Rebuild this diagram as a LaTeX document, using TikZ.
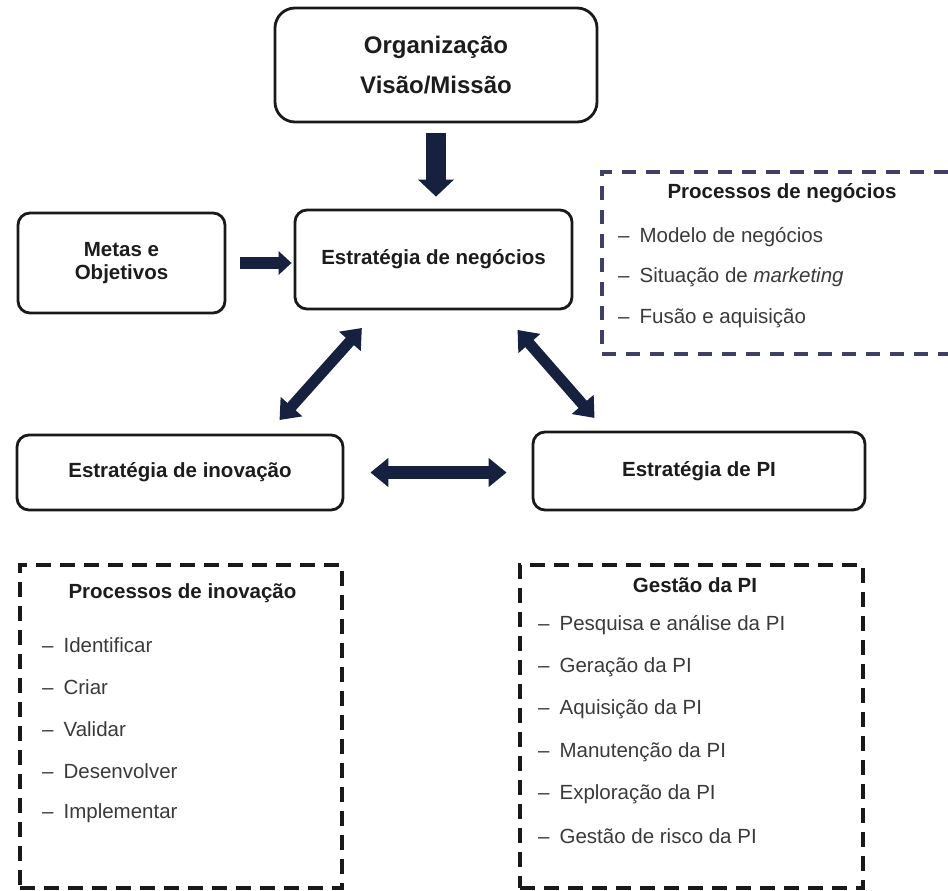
\documentclass[tikz,border=0pt]{standalone}
\usepackage{fontspec}
\setmainfont{Liberation Sans}
\usetikzlibrary{positioning}
\usetikzlibrary{arrows.meta}
\definecolor{arrowNavy}{RGB}{21,33,62}
\definecolor{dashNavy}{RGB}{62,64,102}
\definecolor{textDark}{RGB}{28,28,28}
\definecolor{textGray}{RGB}{58,58,58}
\tikzset{
    objBox/.style={rectangle, rounded corners=12pt, draw=black!90, line width=2.8pt, text centered, font=\fontsize{20.5}{23}\selectfont\bfseries, text=textDark},
    objDashBox/.style={rectangle, draw=black!90, line width=3.2pt, dash pattern=on 15pt off 9pt},
    objTitle/.style={font=\fontsize{20.5}{23}\selectfont\bfseries, text=textDark},
    objItem/.style={anchor=west, inner sep=0pt, font=\fontsize{20.5}{23}\selectfont, text=textGray},
    blockArrow/.style={draw=arrowNavy, line width=11pt},
    twoHeads/.style={{Triangle[width=28pt, length=18pt]}-{Triangle[width=28pt, length=18pt]}}
}
\newcommand{\listdash}{–\hspace{10pt}}

\begin{document}
\begin{tikzpicture}[x=1pt, y=-1pt]
    \useasboundingbox (0,0) rectangle (948,891);

    % main boxes
    \node (org) [objBox, rounded corners=20pt, minimum width=322pt, minimum height=114pt, align=center, font=\fontsize{24}{40}\selectfont\bfseries] at (436,65) {Organização\\Visão/Missão};
    \node (metas) [objBox, minimum width=207pt, minimum height=100pt, align=center] at (121.5,263) {Metas e\\Objetivos};
    \node (neg) [objBox, minimum width=277pt, minimum height=99pt] at (433.5,259.5) {Estratégia de negócios};
    \node (inov) [objBox, minimum width=326pt, minimum height=75pt] at (180,472.5) {Estratégia de inovação};
    \node (pi) [objBox, minimum width=332pt, minimum height=78pt] at (699,471) {Estratégia de PI};

    % dashed boxes
    \node (negBox) [objDashBox, draw=dashNavy, dash pattern=on 14pt off 10pt, minimum width=358pt, minimum height=182pt] at (781,263) {};
    \node (inovBox) [objDashBox, minimum width=322pt, minimum height=323pt] at (181,726.5) {};
    \node (piBox) [objDashBox, minimum width=343pt, minimum height=323pt] at (691.5,726.5) {};

    % Processos de negocios
    \node (negTitle) [objTitle] at (782,193) {Processos de negócios};
    \node (neg1) [objItem] at (618,237) {\listdash Modelo de negócios};
    \node (neg2) [below=40.5pt of neg1.west, objItem] {\listdash Situação de \textit{marketing}};
    \node (neg3) [below=40.5pt of neg2.west, objItem] {\listdash Fusão e aquisição};

    % Processos de inovacao
    \node (inovTitle) [objTitle] at (182.5,593) {Processos de inovação};
    \node (inov1) [objItem] at (42,645) {\listdash Identificar};
    \node (inov2) [below=42pt of inov1.west, objItem] {\listdash Criar};
    \node (inov3) [below=42pt of inov2.west, objItem] {\listdash Validar};
    \node (inov4) [below=42pt of inov3.west, objItem] {\listdash Desenvolver};
    \node (inov5) [below=42pt of inov4.west, objItem] {\listdash Implementar};

    % Gestao da PI
    \node (piTitle) [objTitle] at (695,585) {Gestão da PI};
    \node (pi1) [objItem] at (538,625) {\listdash Pesquisa e análise da PI};
    \node (pi2) [below=42.3pt of pi1.west, objItem] {\listdash Geração da PI};
    \node (pi3) [below=42.3pt of pi2.west, objItem] {\listdash Aquisição da PI};
    \node (pi4) [below=42.3pt of pi3.west, objItem] {\listdash Manutenção da PI};
    \node (pi5) [below=42.3pt of pi4.west, objItem] {\listdash Exploração da PI};
    \node (pi6) [below=42.3pt of pi5.west, objItem] {\listdash Gestão de risco da PI};

    % arrows
    \draw [blockArrow, line width=20pt, -{Triangle[width=35pt, length=17pt]}, shorten <=10pt, shorten >=12pt] (org.south) -- (org.south |- neg.north);
    \draw [blockArrow, line width=12pt, -{Triangle[width=23pt, length=13pt]}, shorten <=14pt, shorten >=2pt] (metas.east) -- (metas.east -| neg.west);
    \draw [blockArrow, line width=13pt, twoHeads, shorten <=26pt, shorten >=25pt] (inov.east) -- (inov.east -| pi.west);
    \draw [blockArrow, twoHeads, shorten <=23.6pt, shorten >=18.2pt] ([xshift=84pt]neg.south west) -- ([xshift=-77pt]inov.north east);
    \draw [blockArrow, twoHeads, shorten <=26pt, shorten >=16.8pt] ([xshift=-73pt]neg.south east) -- ([xshift=74pt]pi.north west);

\end{tikzpicture}
\end{document}
